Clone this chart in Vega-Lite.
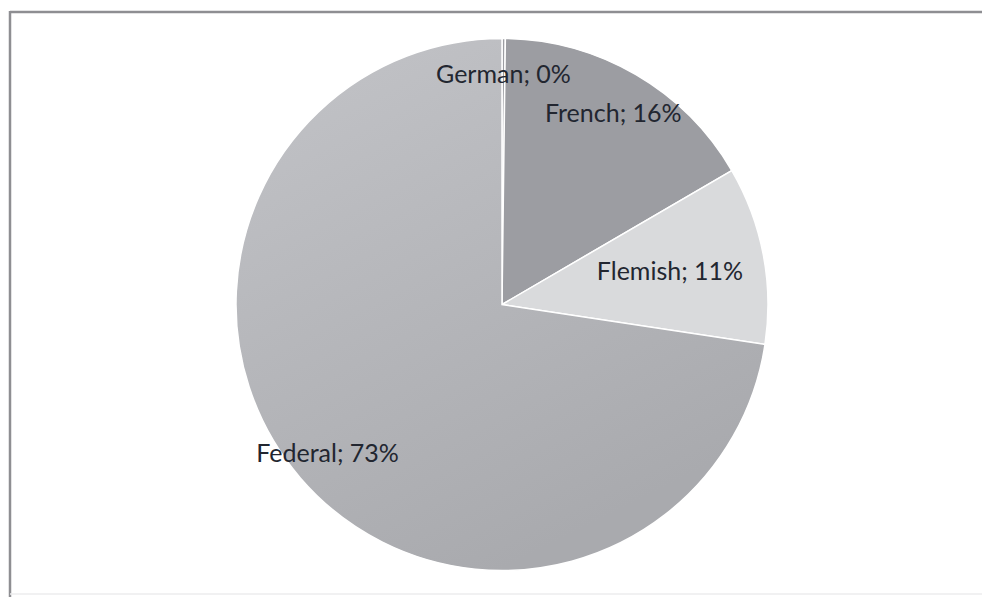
{
  "$schema": "https://vega.github.io/schema/vega-lite/v6.json",
  "width": 960,
  "height": 585,
  "autosize": "none",
  "padding": {"left": 22, "top": 12, "right": 0, "bottom": 0},
  "background": "white",
  "config": {"view": {"stroke": null}},
  "datasets": {
    "shares": [
      {"region": "German", "share": 0.2, "label": "German; 0%", "order": 1},
      {"region": "French", "share": 16.4, "label": "French; 16%", "order": 2},
      {"region": "Flemish", "share": 10.8, "label": "Flemish; 11%", "order": 3},
      {"region": "Federal", "share": 72.6, "label": "Federal; 73%", "order": 4}
    ],
    "frame": [{"name": "frame"}]
  },
  "layer": [
    {
      "data": {"name": "frame"},
      "mark": {"type": "rule", "stroke": "#8e8e92", "strokeWidth": 2.5},
      "encoding": {
        "x": {"value": {"expr": "-12"}},
        "x2": {"value": "width"},
        "y": {"value": 0}
      }
    },
    {
      "data": {"name": "frame"},
      "mark": {"type": "rule", "stroke": "#8e8e92", "strokeWidth": 2.5},
      "encoding": {
        "x": {"value": {"expr": "-12"}},
        "y": {"value": {"expr": "-1"}},
        "y2": {"value": {"expr": "height + 10"}}
      }
    },
    {
      "data": {"name": "frame"},
      "mark": {"type": "rule", "stroke": "#ececee", "strokeWidth": 1.5},
      "encoding": {
        "x": {"value": {"expr": "-12"}},
        "x2": {"value": "width"},
        "y": {"value": {"expr": "height - 3"}}
      }
    },
    {
      "data": {"name": "shares"},
      "transform": [
        {"stack": "share", "groupby": [], "sort": [{"field": "order"}], "as": ["s0", "s1"]},
        {"calculate": "(datum.s0 + datum.s1) / 2", "as": "mid"}
      ],
      "layer": [
        {
          "transform": [{"filter": "datum.region != 'Federal'"}],
          "mark": {"type": "arc", "outerRadius": 266, "stroke": "white", "strokeWidth": 1.5},
          "encoding": {
            "theta": {"field": "s0", "type": "quantitative", "scale": {"domain": [0, 100]}},
            "theta2": {"field": "s1"},
            "color": {
              "field": "region",
              "type": "nominal",
              "scale": {"domain": ["German", "French", "Flemish"], "range": ["#9c9da2", "#9c9da2", "#d9dadc"]},
              "legend": null
            }
          }
        },
        {
          "transform": [{"filter": "datum.region == 'Federal'"}],
          "mark": {
            "type": "arc", "outerRadius": 266, "stroke": "white", "strokeWidth": 1.5,
            "fill": {"gradient": "linear", "x1": 0, "y1": 0, "x2": 0.5, "y2": 1, "stops": [{"offset": 0, "color": "#c3c4c8"}, {"offset": 1, "color": "#a9aaae"}]}
          },
          "encoding": {
            "theta": {"field": "s0", "type": "quantitative", "scale": {"domain": [0, 100]}},
            "theta2": {"field": "s1"}
          }
        },
        {
          "transform": [{"filter": "datum.region == 'German' || datum.region == 'Federal'"}],
          "mark": {"type": "text", "radius": 230, "font": "Lato", "fontSize": 25, "color": "#222630", "align": "center", "baseline": "middle"},
          "encoding": {
            "theta": {"field": "mid", "type": "quantitative", "scale": {"domain": [0, 100]}},
            "text": {"field": "label"}
          }
        },
        {
          "transform": [{"filter": "datum.region == 'French'"}],
          "mark": {"type": "text", "radius": 221, "font": "Lato", "fontSize": 25, "color": "#222630", "align": "center", "baseline": "middle"},
          "encoding": {
            "theta": {"field": "mid", "type": "quantitative", "scale": {"domain": [0, 100]}},
            "text": {"field": "label"}
          }
        },
        {
          "transform": [{"filter": "datum.region == 'Flemish'"}],
          "mark": {"type": "text", "radius": 171, "font": "Lato", "fontSize": 25, "color": "#222630", "align": "center", "baseline": "middle"},
          "encoding": {
            "theta": {"field": "mid", "type": "quantitative", "scale": {"domain": [0, 100]}},
            "text": {"field": "label"}
          }
        }
      ]
    }
  ]
}
